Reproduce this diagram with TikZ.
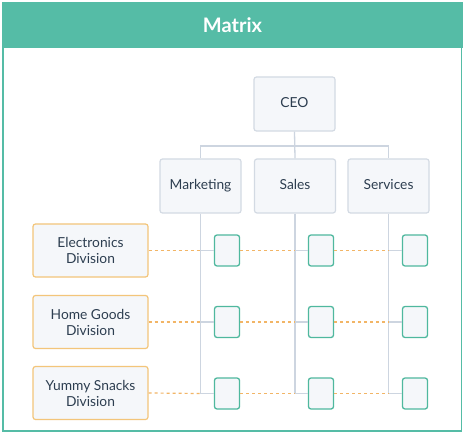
\documentclass[tikz,border=0pt]{standalone}
\usepackage{fontspec}
\setmainfont{Lato}
\definecolor{teal}{HTML}{55BCA6}
\definecolor{tealb}{HTML}{4FB89E}
\definecolor{boxfill}{HTML}{F5F7FA}
\definecolor{boxline}{HTML}{D3DAE3}
\definecolor{orangeb}{HTML}{F3C57A}
\definecolor{oranged}{HTML}{F2B566}
\definecolor{txt}{HTML}{2D3E50}
\definecolor{conn}{HTML}{CDD5E0}
\begin{document}
\begin{tikzpicture}[x=1pt,y=-1pt,
  dept/.style={draw=boxline,line width=1.2pt,fill=boxfill,rounded corners=2.5pt,
    minimum width=81pt,minimum height=54pt,inner sep=0pt,text height=10pt,text depth=3pt,
    font=\fontsize{13.8}{15}\selectfont,text=txt},
  divn/.style={draw=orangeb,line width=1.2pt,fill=boxfill,rounded corners=2.5pt,
    minimum width=115pt,minimum height=53pt,inner sep=0pt,align=center,
    font=\fontsize{13.8}{16}\selectfont,text=txt},
  cell/.style={draw=tealb,line width=1.3pt,fill=boxfill,rounded corners=2.5pt,
    minimum width=25pt,minimum height=31pt,inner sep=0pt},
  link/.style={draw=conn,line width=1.3pt},
  odash/.style={draw=oranged,line width=1.2pt,dash pattern=on 3pt off 3pt}]
\useasboundingbox (0,0) rectangle (465,435);
% frame and header
\fill[white] (0,0) rectangle (465,435);
\draw[teal,line width=1.5pt] (3,3) rectangle (461.5,431);
\fill[teal] (2,2) rectangle (463,48.5);
\node[text=white,font=\bfseries\fontsize{20}{23}\selectfont] (title) at (232.5,25) {Matrix};
% hierarchy
\node[dept] (ceo) at (294.5,104) {CEO};
\node[dept] (mkt) at (200.5,186) {Marketing};
\node[dept] (sales) at (295,186) {Sales};
\node[dept] (svc) at (388.5,186) {Services};
\coordinate (bus) at (294.5,146);
% divisions
\node[divn] (elec) at (90.5,250.5) {Electronics\\Division};
\node[divn] (home) at (90.5,322) {Home Goods\\Division};
\node[divn] (snack) at (90.5,393) {Yummy Snacks\\Division};
% cells
\foreach \r/\y in {1/250.5,2/322,3/393.5}{
  \node[cell] (m\r) at (227,\y) {};
  \node[cell] (s\r) at (321,\y) {};
  \node[cell] (v\r) at (415,\y) {};
}
% connectors
\draw[link] (ceo.south) -- (sales.north);
\draw[link] (mkt.north) -- (mkt.north |- bus) -- (svc.north |- bus) -- (svc.north);
\foreach \d/\c in {mkt/m,sales/s,svc/v}{
  \draw[link] (\d.south) |- (\c3.west);
  \draw[link] (\d.south |- \c1.west) -- (\c1.west);
  \draw[link] (\d.south |- \c2.west) -- (\c2.west);
}
\foreach \r/\dv in {1/elec,2/home,3/snack}{
  \draw[odash] (\dv.east) -- (mkt.south |- m\r.west);
  \draw[odash] (m\r.east) -- (sales.south |- s\r.west);
  \draw[odash] (s\r.east) -- (svc.south |- v\r.west);
}
\end{tikzpicture}
\end{document}
